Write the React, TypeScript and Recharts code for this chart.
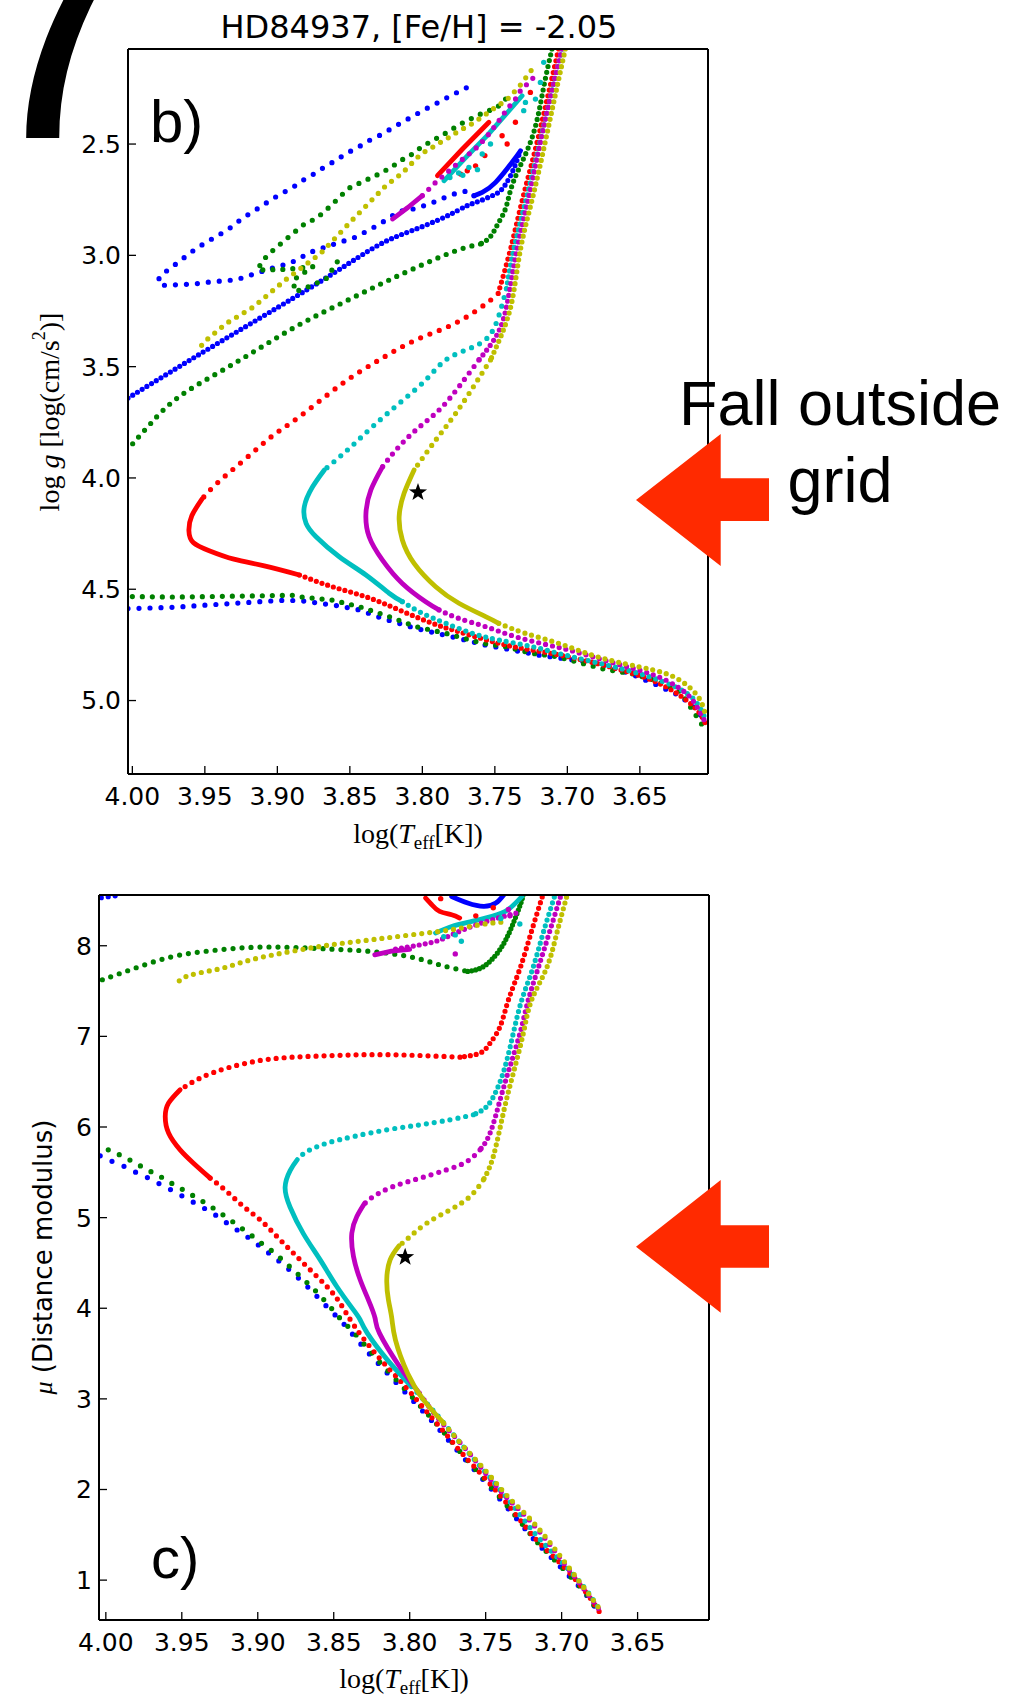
import React from "react";
import { ComposedChart, Line, Scatter, XAxis, YAxis } from "recharts";

type Pt = [number, number];

const BLUE = "#0000ff";
const GREEN = "#008000";
const RED = "#ff0000";
const CYAN = "#00bfbf";
const MAGENTA = "#bf00bf";
const YELLOW = "#bfbf00";

const xTicks = [4.0, 3.95, 3.9, 3.85, 3.8, 3.75, 3.7, 3.65];
const loggTicks = [2.5, 3.0, 3.5, 4.0, 4.5, 5.0];
const muTicks = [1, 2, 3, 4, 5, 6, 7, 8];

const starLogg: Pt[] = [[3.803, 4.065]];
const starMu: Pt[] = [[3.803, 4.564]];

// ---------- panel b): log g vs log Teff ----------
const blueTopMs: Pt[] = [[4.003, 4.587], [3.971, 4.581], [3.951, 4.572], [3.929, 4.563], [3.898, 4.55], [3.884, 4.551], [3.8573, 4.575], [3.8435, 4.593], [3.8275, 4.631], [3.8045, 4.676], [3.7748, 4.721], [3.7564, 4.751], [3.7404, 4.77], [3.7197, 4.796], [3.69, 4.823], [3.674, 4.842], [3.655, 4.883], [3.639, 4.928], [3.622, 4.98], [3.611, 5.04], [3.604, 5.1]];
const blueTopSgb: Pt[] = [[4.003, 3.641], [3.95, 3.43], [3.9, 3.235], [3.86, 3.075], [3.8297, 2.952], [3.8069, 2.888], [3.7839, 2.826], [3.7702, 2.78], [3.761, 2.757], [3.7519, 2.732], [3.745, 2.702], [3.7381, 2.627], [3.7323, 2.53]];
const blueTopLoop: Pt[] = [[3.7323, 2.53], [3.7381, 2.582], [3.7495, 2.672], [3.7587, 2.717], [3.7644, 2.732]];
const blueTopHb: Pt[] = [[3.7644, 2.732], [3.7679, 2.71], [3.7748, 2.717], [3.7816, 2.732], [3.7954, 2.77], [3.808, 2.795], [3.816, 2.802], [3.83, 2.862], [3.846, 2.918], [3.869, 2.967], [3.879, 2.99], [3.884, 3.012], [3.891, 3.034], [3.903, 3.057], [3.914, 3.079], [3.921, 3.094], [3.928, 3.109], [3.936, 3.114], [3.947, 3.12], [3.958, 3.129], [3.969, 3.132], [3.977, 3.135], [3.981, 3.132], [3.982, 3.109], [3.98, 3.087], [3.975, 3.064], [3.966, 3.019], [3.958, 2.979], [3.951, 2.949], [3.944, 2.922], [3.936, 2.892], [3.93, 2.865], [3.924, 2.832], [3.917, 2.805], [3.905, 2.753], [3.898, 2.725], [3.89, 2.698], [3.883, 2.665], [3.875, 2.635], [3.868, 2.605], [3.86, 2.575], [3.852, 2.54], [3.845, 2.518], [3.838, 2.488], [3.83, 2.463], [3.822, 2.433], [3.814, 2.402], [3.806, 2.373], [3.799, 2.347], [3.791, 2.32], [3.784, 2.295], [3.776, 2.268], [3.769, 2.245]];

const greenTopMs: Pt[] = [[4.0, 4.533], [3.969, 4.535], [3.917, 4.53], [3.89, 4.527], [3.8848, 4.534], [3.862, 4.549], [3.8435, 4.578], [3.8229, 4.623], [3.8045, 4.668], [3.7839, 4.698], [3.7587, 4.743], [3.7427, 4.758], [3.7243, 4.788], [3.707, 4.803], [3.674, 4.86], [3.655, 4.88], [3.639, 4.91], [3.622, 4.96], [3.606, 5.12]];
const greenTopRgb: Pt[] = [[3.7106, 2.073], [3.7165, 2.25], [3.7243, 2.47], [3.7368, 2.662], [3.7422, 2.782], [3.7477, 2.856], [3.7531, 2.916], [3.7599, 2.949]];
const greenTopSgb: Pt[] = [[3.7599, 2.949], [3.778, 2.982], [3.805, 3.057], [3.832, 3.139], [3.86, 3.229], [3.887, 3.319], [3.914, 3.424], [3.941, 3.528], [3.969, 3.641], [3.988, 3.76], [4.003, 3.87]];
const greenTopHb: Pt[] = [[3.7426, 2.298], [3.7484, 2.335], [3.7541, 2.35], [3.7598, 2.365], [3.7725, 2.406], [3.7794, 2.433], [3.7862, 2.46], [3.7931, 2.485], [3.8, 2.51], [3.8069, 2.545], [3.8138, 2.57], [3.8206, 2.6], [3.8275, 2.627], [3.851, 2.699], [3.8592, 2.752], [3.8687, 2.811], [3.8755, 2.841], [3.8823, 2.864], [3.8892, 2.901], [3.8946, 2.931], [3.9054, 2.991], [3.9109, 3.029], [3.9135, 3.066], [3.8946, 3.063], [3.8755, 3.051], [3.8891, 3.111], [3.8878, 3.164], [3.8755, 3.133], [3.866, 3.103], [3.8579, 3.021]];

const redTopRgb: Pt[] = [[3.706, 2.073], [3.714, 2.3], [3.722, 2.522], [3.731, 2.75], [3.7392, 2.972], [3.7477, 3.171]];
const redTopSgb: Pt[] = [[3.7477, 3.171], [3.7559, 3.216], [3.7776, 3.306], [3.8048, 3.381], [3.8298, 3.47], [3.855, 3.575], [3.8848, 3.725], [3.903, 3.809], [3.922, 3.914], [3.941, 4.02], [3.952, 4.095]];
const redTopHook: Pt[] = [[3.952, 4.095], [3.959, 4.17], [3.961, 4.237], [3.958, 4.29], [3.947, 4.327], [3.93, 4.365], [3.909, 4.395], [3.8848, 4.436]];
const redTopMs: Pt[] = [[3.8848, 4.436], [3.8619, 4.489], [3.8389, 4.534], [3.816, 4.593], [3.7931, 4.653], [3.7748, 4.691], [3.7473, 4.743], [3.7243, 4.773], [3.696, 4.808], [3.66, 4.868], [3.633, 4.935], [3.613, 5.026], [3.605, 5.1]];
const redTopStreak: Pt[] = [[3.7896, 2.642], [3.772, 2.52], [3.7541, 2.402]];
const redTopBits: Pt[] = [[3.7736, 2.635], [3.769, 2.62], [3.7633, 2.598], [3.7569, 2.552], [3.7415, 2.5], [3.745, 2.463], [3.7358, 2.402], [3.7255, 2.268]];

const cyanTopRgb: Pt[] = [[3.7037, 2.073], [3.712, 2.3], [3.72, 2.522], [3.7285, 2.75], [3.7369, 2.972], [3.742, 3.15]];
const cyanTopSgb: Pt[] = [[3.742, 3.15], [3.7477, 3.28], [3.755, 3.37], [3.768, 3.42], [3.7839, 3.47], [3.7977, 3.56], [3.816, 3.665], [3.8344, 3.77], [3.8504, 3.867], [3.8676, 3.964]];
const cyanTopHook: Pt[] = [[3.8676, 3.964], [3.8757, 4.04], [3.8814, 4.129], [3.8802, 4.204], [3.8733, 4.264], [3.8573, 4.354], [3.8389, 4.436], [3.8229, 4.518], [3.8138, 4.556]];
const cyanTopMs: Pt[] = [[3.8138, 4.556], [3.8, 4.608], [3.7839, 4.653], [3.7656, 4.698], [3.7473, 4.728], [3.7243, 4.758], [3.7014, 4.796], [3.67, 4.845], [3.645, 4.89], [3.625, 4.94], [3.612, 5.0], [3.605, 5.08]];
const cyanTopStreak: Pt[] = [[3.7851, 2.665], [3.77, 2.56], [3.755, 2.46], [3.7312, 2.283]];
const cyanTopBits: Pt[] = [[3.7679, 2.605], [3.775, 2.63], [3.781, 2.65], [3.7587, 2.545], [3.753, 2.5], [3.7301, 2.35], [3.7289, 2.313], [3.722, 2.298], [3.7186, 2.223], [3.7163, 2.133], [3.762, 2.615], [3.7721, 2.64]];

const magentaTopRgb: Pt[] = [[3.7037, 2.073], [3.712, 2.3], [3.7195, 2.522], [3.727, 2.75], [3.7347, 2.972], [3.741, 3.2], [3.748, 3.35], [3.761, 3.47]];
const magentaTopSgb: Pt[] = [[3.761, 3.47], [3.7748, 3.59], [3.7885, 3.695], [3.8045, 3.785], [3.8183, 3.875], [3.8275, 3.95]];
const magentaTopHook: Pt[] = [[3.8275, 3.95], [3.8355, 4.054], [3.8389, 4.159], [3.8367, 4.264], [3.8275, 4.369], [3.8138, 4.474], [3.7977, 4.556], [3.7885, 4.593]];
const magentaTopMs: Pt[] = [[3.7885, 4.593], [3.7748, 4.631], [3.7564, 4.668], [3.7358, 4.713], [3.7129, 4.751], [3.6945, 4.781], [3.6686, 4.83], [3.6413, 4.883], [3.6249, 4.935], [3.614, 4.995], [3.6058, 5.086]];
const magentaTopClump: Pt[] = [[3.8206, 2.837], [3.81, 2.785], [3.8, 2.732]];
const magentaTopHb: Pt[] = [[3.8, 2.732], [3.7977, 2.717], [3.7908, 2.672], [3.7748, 2.582], [3.7679, 2.545], [3.761, 2.507], [3.7541, 2.455], [3.7472, 2.395], [3.7415, 2.343], [3.7358, 2.298], [3.7323, 2.26], [3.7197, 2.178]];

const yellowTopRgb: Pt[] = [[3.7014, 2.073], [3.709, 2.3], [3.7163, 2.522], [3.7243, 2.75], [3.7323, 2.972], [3.738, 3.2], [3.745, 3.35], [3.753, 3.47]];
const yellowTopSgb: Pt[] = [[3.753, 3.47], [3.7633, 3.575], [3.777, 3.71], [3.7908, 3.83], [3.8057, 3.964]];
const yellowTopHook: Pt[] = [[3.8057, 3.964], [3.8126, 4.069], [3.816, 4.174], [3.8138, 4.279], [3.8057, 4.384], [3.7908, 4.489], [3.7748, 4.563], [3.7564, 4.623], [3.7473, 4.653]];
const yellowTopMs: Pt[] = [[3.7473, 4.653], [3.7289, 4.698], [3.706, 4.743], [3.683, 4.796], [3.66, 4.835], [3.6413, 4.862], [3.6277, 4.89], [3.6168, 4.935], [3.6086, 4.995], [3.6045, 5.07]];
const yellowTopHb: Pt[] = [[3.725, 2.17], [3.733, 2.24], [3.7415, 2.3], [3.753, 2.35], [3.7576, 2.373], [3.7679, 2.418], [3.7748, 2.44], [3.7805, 2.466], [3.7874, 2.492], [3.7942, 2.519], [3.8011, 2.545], [3.8138, 2.63], [3.8252, 2.687], [3.8483, 2.841], [3.8701, 2.991], [3.8946, 3.111], [3.9163, 3.231], [3.9353, 3.306], [3.9503, 3.388], [3.953, 3.411]];

// ---------- panel c): distance modulus vs log Teff ----------
const blueBotMs: Pt[] = [[4.0037, 5.682], [3.9957, 5.619], [3.9878, 5.564], [3.9825, 5.517], [3.9719, 5.436], [3.9579, 5.314], [3.9499, 5.24], [3.9302, 5.056], [3.9164, 4.895], [3.9072, 4.792], [3.8977, 4.674], [3.8848, 4.504], [3.8743, 4.35], [3.8651, 4.203], [3.8578, 4.074], [3.8438, 3.835], [3.8279, 3.52], [3.8067, 3.14], [3.7856, 2.76], [3.7645, 2.35], [3.7486, 2.05], [3.7328, 1.74], [3.7168, 1.42], [3.701, 1.15], [3.6851, 0.87], [3.6746, 0.62]];
const blueBotTop: Pt[] = [[3.7724, 8.544], [3.7618, 8.471], [3.7513, 8.434], [3.7433, 8.471], [3.738, 8.563]];
const blueBotCorner: Pt[] = [[4.003, 8.53], [3.99, 8.56]];

const greenBotMs: Pt[] = [[3.9984, 5.748], [3.9923, 5.704], [3.9864, 5.656], [3.9719, 5.52], [3.9659, 5.472], [3.9576, 5.387], [3.9499, 5.314], [3.9379, 5.196], [3.9302, 5.115], [3.9182, 4.976], [3.9039, 4.8], [3.8963, 4.7], [3.8901, 4.626], [3.8842, 4.54], [3.8699, 4.32], [3.8644, 4.232], [3.86, 4.159], [3.8524, 4.018], [3.848, 3.927], [3.835, 3.7], [3.82, 3.41], [3.8, 3.05], [3.78, 2.68], [3.7645, 2.37], [3.7486, 2.07], [3.7328, 1.76], [3.7168, 1.43], [3.701, 1.16], [3.6851, 0.88], [3.6746, 0.62]];
const greenBotHb: Pt[] = [[4.0023, 7.625], [3.9838, 7.735], [3.9574, 7.875], [3.931, 7.945], [3.9045, 7.982], [3.8781, 7.982], [3.8516, 7.963], [3.8253, 7.937], [3.7988, 7.875], [3.7804, 7.79], [3.7618, 7.717]];
const greenBotRgb: Pt[] = [[3.7618, 7.717], [3.7513, 7.772], [3.7407, 7.956], [3.7327, 8.213], [3.7261, 8.508], [3.725, 8.6]];

const redBotRgb: Pt[] = [[3.7116, 8.6], [3.7195, 8.177], [3.7274, 7.75], [3.735, 7.404], [3.7405, 7.109], [3.7471, 6.926], [3.7537, 6.816], [3.7669, 6.771]];
const redBotSgb: Pt[] = [[3.7669, 6.771], [3.7887, 6.786], [3.8107, 6.797], [3.8326, 6.797], [3.8545, 6.786], [3.8765, 6.771], [3.8984, 6.734], [3.9203, 6.65], [3.9379, 6.54], [3.9511, 6.411]];
const redBotHook: Pt[] = [[3.9511, 6.411], [3.9587, 6.264], [3.9609, 6.116], [3.9587, 5.933], [3.9511, 5.748], [3.9423, 5.601], [3.9313, 5.436]];
const redBotMs: Pt[] = [[3.9313, 5.436], [3.9203, 5.288], [3.9094, 5.123], [3.8984, 4.976], [3.8874, 4.792], [3.8765, 4.608], [3.8655, 4.424], [3.8545, 4.24], [3.8458, 4.056], [3.8358, 3.79], [3.8199, 3.45], [3.8041, 3.16], [3.7909, 2.9], [3.7776, 2.64], [3.7645, 2.38], [3.7486, 2.09], [3.7328, 1.78], [3.7168, 1.45], [3.701, 1.19], [3.6851, 0.89], [3.6746, 0.635]];
const redBotTop: Pt[] = [[3.7895, 8.526], [3.7855, 8.453], [3.7803, 8.379], [3.7724, 8.342], [3.7671, 8.306]];
const redBotBits: Pt[] = [[3.7565, 8.33], [3.745, 8.42], [3.7796, 8.52]];

const cyanBotRgb: Pt[] = [[3.7036, 8.6], [3.712, 8.15], [3.719, 7.75], [3.7262, 7.404], [3.7318, 7.036], [3.7372, 6.668], [3.7427, 6.411], [3.7493, 6.226], [3.7581, 6.135]];
const cyanBotSgb: Pt[] = [[3.7581, 6.135], [3.7734, 6.08], [3.7932, 6.024], [3.8151, 5.969], [3.837, 5.895], [3.8545, 5.822], [3.8677, 5.729], [3.874, 5.64]];
const cyanBotHook: Pt[] = [[3.874, 5.64], [3.8787, 5.519], [3.882, 5.336], [3.8787, 5.115], [3.8699, 4.821], [3.8589, 4.534], [3.848, 4.24], [3.837, 3.982], [3.8326, 3.872], [3.8279, 3.725], [3.8147, 3.43], [3.7988, 3.136]];
const cyanBotMs: Pt[] = [[3.7988, 3.136], [3.783, 2.842], [3.7645, 2.47], [3.7486, 2.16], [3.7328, 1.84], [3.7168, 1.5], [3.701, 1.22], [3.6851, 0.92], [3.6746, 0.66]];
const cyanBotHb: Pt[] = [[3.7261, 8.544], [3.7354, 8.397], [3.7459, 8.324], [3.7591, 8.268], [3.7724, 8.213], [3.783, 8.14]];
const cyanBotBits: Pt[] = [[3.7776, 8.1], [3.77, 8.12], [3.766, 8.05], [3.74, 8.3], [3.7275, 8.24]];

const magentaBotRgb: Pt[] = [[3.6997, 8.6], [3.708, 8.15], [3.7155, 7.75], [3.7219, 7.404], [3.7274, 7.036], [3.734, 6.668], [3.7405, 6.3], [3.7471, 5.933], [3.7537, 5.748]];
const magentaBotSgb: Pt[] = [[3.7537, 5.748], [3.7624, 5.619], [3.7756, 5.528], [3.7932, 5.436], [3.8107, 5.344], [3.8239, 5.233], [3.83, 5.15]];
const magentaBotHook: Pt[] = [[3.83, 5.15], [3.8348, 5.012], [3.8381, 4.829], [3.837, 4.571], [3.8326, 4.314], [3.8272, 4.093], [3.8228, 3.891], [3.8199, 3.725], [3.8067, 3.357], [3.7936, 3.062]];
const magentaBotMs: Pt[] = [[3.7936, 3.062], [3.7804, 2.768], [3.7645, 2.474], [3.7486, 2.15], [3.7354, 1.9], [3.7222, 1.68], [3.709, 1.42], [3.6957, 1.13], [3.6825, 0.84], [3.6746, 0.66]];
const magentaBotHb: Pt[] = [[3.7301, 8.36], [3.7459, 8.287], [3.7591, 8.213], [3.7724, 8.121], [3.783, 8.048], [3.7988, 7.993], [3.812, 7.956]];
const magentaBotClump: Pt[] = [[3.8, 7.96], [3.812, 7.94], [3.823, 7.9]];
const magentaBotBits: Pt[] = [[3.77, 7.91], [3.735, 8.4], [3.734, 8.33]];

const yellowBotRgb: Pt[] = [[3.6957, 8.6], [3.703, 8.15], [3.71, 7.75], [3.7197, 7.404], [3.7252, 7.036], [3.7318, 6.595], [3.7384, 6.153], [3.745, 5.675], [3.7515, 5.417]];
const yellowBotSgb: Pt[] = [[3.7515, 5.417], [3.7603, 5.233], [3.7734, 5.086], [3.7888, 4.939], [3.7997, 4.792], [3.807, 4.69]];
const yellowBotHook: Pt[] = [[3.807, 4.69], [3.8129, 4.534], [3.8151, 4.314], [3.814, 4.093], [3.8118, 3.891], [3.8094, 3.651], [3.8014, 3.283], [3.7909, 2.989], [3.7776, 2.731]];
const yellowBotMs: Pt[] = [[3.7776, 2.731], [3.7645, 2.474], [3.7486, 2.18], [3.7354, 1.922], [3.7222, 1.701], [3.709, 1.443], [3.6957, 1.149], [3.6825, 0.855], [3.6746, 0.671]];
const yellowBotHb: Pt[] = [[3.74, 8.26], [3.754, 8.232], [3.7724, 8.177], [3.7988, 8.121], [3.8253, 8.066], [3.8516, 8.011], [3.8781, 7.937], [3.9045, 7.845], [3.923, 7.754], [3.9389, 7.699], [3.9495, 7.643], [3.9521, 7.595]];

type Track = { pts: Pt[]; color: string; gap: number; smooth?: boolean };
type Bits = { pts: Pt[]; color: string };

// gap 0 = drawn as a continuous band of points
const topTracks: Track[] = [
  { pts: blueTopMs, color: BLUE, gap: 11 },
  { pts: blueTopSgb, color: BLUE, gap: 5.5, smooth: true },
  { pts: blueTopLoop, color: BLUE, gap: 0, smooth: true },
  { pts: blueTopHb, color: BLUE, gap: 11 },
  { pts: greenTopMs, color: GREEN, gap: 10 },
  { pts: greenTopRgb, color: GREEN, gap: 6, smooth: true },
  { pts: greenTopSgb, color: GREEN, gap: 9, smooth: true },
  { pts: greenTopHb, color: GREEN, gap: 10 },
  { pts: redTopRgb, color: RED, gap: 6, smooth: true },
  { pts: redTopSgb, color: RED, gap: 10, smooth: true },
  { pts: redTopHook, color: RED, gap: 0, smooth: true },
  { pts: redTopMs, color: RED, gap: 6, smooth: true },
  { pts: redTopStreak, color: RED, gap: 0 },
  { pts: cyanTopRgb, color: CYAN, gap: 6, smooth: true },
  { pts: cyanTopSgb, color: CYAN, gap: 9, smooth: true },
  { pts: cyanTopHook, color: CYAN, gap: 0, smooth: true },
  { pts: cyanTopMs, color: CYAN, gap: 7, smooth: true },
  { pts: cyanTopStreak, color: CYAN, gap: 0 },
  { pts: magentaTopRgb, color: MAGENTA, gap: 6, smooth: true },
  { pts: magentaTopSgb, color: MAGENTA, gap: 8, smooth: true },
  { pts: magentaTopHook, color: MAGENTA, gap: 0, smooth: true },
  { pts: magentaTopMs, color: MAGENTA, gap: 7, smooth: true },
  { pts: magentaTopClump, color: MAGENTA, gap: 0 },
  { pts: magentaTopHb, color: MAGENTA, gap: 9 },
  { pts: yellowTopRgb, color: YELLOW, gap: 6, smooth: true },
  { pts: yellowTopSgb, color: YELLOW, gap: 8, smooth: true },
  { pts: yellowTopHook, color: YELLOW, gap: 0, smooth: true },
  { pts: yellowTopMs, color: YELLOW, gap: 7, smooth: true },
  { pts: yellowTopHb, color: YELLOW, gap: 9 },
];
const topBits: Bits[] = [
  { pts: redTopBits, color: RED },
  { pts: cyanTopBits, color: CYAN },
];

const botTracks: Track[] = [
  { pts: blueBotMs, color: BLUE, gap: 13 },
  { pts: blueBotTop, color: BLUE, gap: 0, smooth: true },
  { pts: blueBotCorner, color: BLUE, gap: 7 },
  { pts: greenBotMs, color: GREEN, gap: 12 },
  { pts: greenBotHb, color: GREEN, gap: 9, smooth: true },
  { pts: greenBotRgb, color: GREEN, gap: 4, smooth: true },
  { pts: redBotRgb, color: RED, gap: 6, smooth: true },
  { pts: redBotSgb, color: RED, gap: 8, smooth: true },
  { pts: redBotHook, color: RED, gap: 0, smooth: true },
  { pts: redBotMs, color: RED, gap: 8, smooth: true },
  { pts: redBotTop, color: RED, gap: 0, smooth: true },
  { pts: cyanBotRgb, color: CYAN, gap: 6, smooth: true },
  { pts: cyanBotSgb, color: CYAN, gap: 8, smooth: true },
  { pts: cyanBotHook, color: CYAN, gap: 0, smooth: true },
  { pts: cyanBotMs, color: CYAN, gap: 8, smooth: true },
  { pts: cyanBotHb, color: CYAN, gap: 0, smooth: true },
  { pts: magentaBotRgb, color: MAGENTA, gap: 6, smooth: true },
  { pts: magentaBotSgb, color: MAGENTA, gap: 8, smooth: true },
  { pts: magentaBotHook, color: MAGENTA, gap: 0, smooth: true },
  { pts: magentaBotMs, color: MAGENTA, gap: 8, smooth: true },
  { pts: magentaBotHb, color: MAGENTA, gap: 6, smooth: true },
  { pts: magentaBotClump, color: MAGENTA, gap: 0 },
  { pts: yellowBotRgb, color: YELLOW, gap: 6, smooth: true },
  { pts: yellowBotSgb, color: YELLOW, gap: 8, smooth: true },
  { pts: yellowBotHook, color: YELLOW, gap: 0, smooth: true },
  { pts: yellowBotMs, color: YELLOW, gap: 8, smooth: true },
  { pts: yellowBotHb, color: YELLOW, gap: 8, smooth: true },
];
const botBits: Bits[] = [
  { pts: redBotBits, color: RED },
  { pts: cyanBotBits, color: CYAN },
  { pts: magentaBotBits, color: MAGENTA },
];

const toRows = (pts: Pt[]) => pts.map(([x, y]) => ({ x, y }));

const frame = { stroke: "#000", strokeWidth: 2 };
const tickLine = { stroke: "#000", strokeWidth: 1.3 };
const tickFont = { fontSize: 25, fontFamily: "DejaVu Sans", fill: "#000" };

const StarShape = (props: any) => {
  const { cx, cy } = props;
  const pts: string[] = [];
  for (let i = 0; i < 10; i++) {
    const r = i % 2 === 0 ? 9.5 : 3.8;
    const a = -Math.PI / 2 + (i * Math.PI) / 5;
    pts.push(`${cx + r * Math.cos(a)},${cy + r * Math.sin(a)}`);
  }
  return <polygon points={pts.join(" ")} fill="#000" />;
};

const DotShape = (props: any) => <circle cx={props.cx} cy={props.cy} r={2.7} fill={props.fill} />;

interface PanelProps {
  top: number;
  height: number;
  margin: { top: number; right: number; bottom: number; left: number };
  xDomain: [number, number];
  yDomain: [number, number];
  yTicks: number[];
  yReversed: boolean;
  yFmt: (v: number) => string;
  tracks: Track[];
  bits: Bits[];
  star: Pt[];
}

function Panel({ top, height, margin, xDomain, yDomain, yTicks, yReversed, yFmt, tracks, bits, star }: PanelProps) {
  return (
    <div style={{ position: "absolute", left: 0, top, width: 1020, height }}>
      <ComposedChart width={1020} height={height} margin={margin}>
        <XAxis
          xAxisId="b"
          type="number"
          dataKey="x"
          domain={xDomain}
          allowDataOverflow
          reversed
          ticks={xTicks}
          interval={0}
          tickFormatter={(v: number) => v.toFixed(2)}
          height={50}
          tickSize={-8}
          tickMargin={21}
          axisLine={frame}
          tickLine={tickLine}
          tick={tickFont}
        />
        <XAxis
          xAxisId="t"
          orientation="top"
          type="number"
          dataKey="x"
          domain={xDomain}
          allowDataOverflow
          reversed
          ticks={xTicks}
          interval={0}
          height={10}
          tickSize={-8}
          axisLine={frame}
          tickLine={tickLine}
          tick={false}
        />
        <YAxis
          yAxisId="l"
          type="number"
          dataKey="y"
          domain={yDomain}
          allowDataOverflow
          reversed={yReversed}
          ticks={yTicks}
          interval={0}
          tickFormatter={yFmt}
          width={60}
          tickSize={-8}
          tickMargin={15}
          axisLine={frame}
          tickLine={tickLine}
          tick={tickFont}
        />
        <YAxis
          yAxisId="r"
          orientation="right"
          type="number"
          dataKey="y"
          domain={yDomain}
          allowDataOverflow
          reversed={yReversed}
          ticks={yTicks}
          interval={0}
          width={10}
          tickSize={-8}
          axisLine={frame}
          tickLine={tickLine}
          tick={false}
        />
        {tracks.map((t, i) => (
          <Line
            key={`t${i}`}
            xAxisId="b"
            yAxisId="l"
            data={toRows(t.pts)}
            dataKey="y"
            type={t.smooth ? "natural" : "linear"}
            stroke={t.color}
            strokeWidth={t.gap ? 5.2 : 4.8}
            strokeDasharray={t.gap ? `0 ${t.gap}` : undefined}
            strokeLinecap="round"
            strokeLinejoin="round"
            dot={false}
            activeDot={false}
            legendType="none"
            isAnimationActive={false}
          />
        ))}
        {bits.map((b, i) => (
          <Scatter
            key={`b${i}`}
            xAxisId="b"
            yAxisId="l"
            data={toRows(b.pts)}
            fill={b.color}
            shape={DotShape}
            legendType="none"
            isAnimationActive={false}
          />
        ))}
        <Scatter
          xAxisId="b"
          yAxisId="l"
          data={toRows(star)}
          fill="#000"
          shape={StarShape}
          legendType="none"
          isAnimationActive={false}
        />
      </ComposedChart>
    </div>
  );
}

const TeffLabel = ({ x, y }: { x: number; y: number }) => (
  <text x={x} y={y} textAnchor="middle" fontFamily="Liberation Serif" fontSize={28} fill="#000">
    log(<tspan fontStyle="italic">T</tspan>
    <tspan dy={6} fontSize={19}>eff</tspan>
    <tspan dy={-6}>[K])</tspan>
  </text>
);

export default function App() {
  return (
    <div style={{ position: "absolute", left: 0, top: 0, width: 1020, height: 1699, background: "#fff", overflow: "hidden" }}>
      <Panel
        top={0}
        height={860}
        margin={{ top: 39, right: 302, bottom: 36, left: 68 }}
        xDomain={[3.603, 4.003]}
        yDomain={[2.073, 5.33]}
        yTicks={loggTicks}
        yReversed
        yFmt={(v) => v.toFixed(1)}
        tracks={topTracks}
        bits={topBits}
        star={starLogg}
      />
      <Panel
        top={860}
        height={839}
        margin={{ top: 25, right: 301, bottom: 29, left: 39 }}
        xDomain={[3.603, 4.0045]}
        yDomain={[0.56, 8.56]}
        yTicks={muTicks}
        yReversed={false}
        yFmt={(v) => String(v)}
        tracks={botTracks}
        bits={botBits}
        star={starMu}
      />
      <svg
        width={1020}
        height={1699}
        style={{ position: "absolute", left: 0, top: 0, pointerEvents: "none" }}
      >
        <text x={-38} y={138} fontFamily="Liberation Sans" fontSize={360} fill="#000">7</text>
        <text x={419} y={38} textAnchor="middle" fontFamily="DejaVu Sans" fontSize={32} fill="#000">
          HD84937, [Fe/H] = -2.05
        </text>
        <text x={150} y={142} fontFamily="Liberation Sans" fontSize={60} fill="#000">b)</text>
        <text x={151} y={1578} fontFamily="Liberation Sans" fontSize={58} fill="#000">c)</text>
        <TeffLabel x={418} y={843} />
        <TeffLabel x={404} y={1688} />
        <text
          transform="translate(49,412) rotate(-90)"
          textAnchor="middle"
          dominantBaseline="central"
          fontFamily="Liberation Serif"
          fontSize={28}
          fill="#000"
        >
          log <tspan fontStyle="italic">g</tspan> [log(cm/s<tspan dy={-10} fontSize={18}>2</tspan>
          <tspan dy={10}>)]</tspan>
        </text>
        <text
          transform="translate(43,1257) rotate(-90)"
          textAnchor="middle"
          dominantBaseline="central"
          fontFamily="DejaVu Sans"
          fontSize={26}
          fill="#000"
        >
          <tspan fontFamily="Liberation Serif" fontStyle="italic">μ</tspan> (Distance modulus)
        </text>
        <text x={840} y={425} textAnchor="middle" fontFamily="Liberation Sans" fontSize={63} fill="#000">
          Fall outside
        </text>
        <text x={840} y={502} textAnchor="middle" fontFamily="Liberation Sans" fontSize={63} fill="#000">
          grid
        </text>
        <polygon
          points="636,500 720.7,434 720.7,478.3 769,478.3 769,521 720.7,521 720.7,566"
          fill="#ff2a00"
        />
        <polygon
          points="636,1246.7 720.7,1180 720.7,1225.3 769,1225.3 769,1267.7 720.7,1267.7 720.7,1312.7"
          fill="#ff2a00"
        />
      </svg>
    </div>
  );
}
